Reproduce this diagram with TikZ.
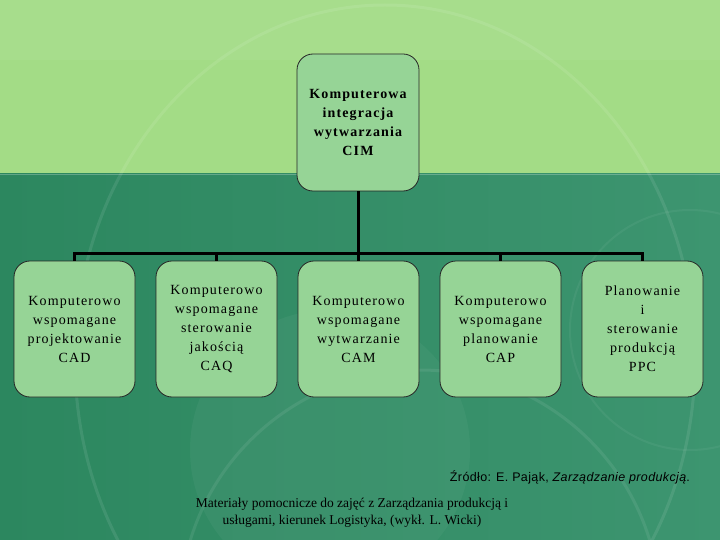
\documentclass[tikz,border=0pt]{standalone}
\usepackage{fontspec}
\setmainfont{Liberation Serif}[LetterSpace=8]
\newfontfamily\arialfont{Liberation Sans}[LetterSpace=3]
\newfontfamily\timesfont{Liberation Serif}
\definecolor{topbg}{HTML}{A3DC86}
\definecolor{botbgl}{HTML}{2C875F}
\definecolor{botbgr}{HTML}{3D9570}
\definecolor{boxfill}{HTML}{96D496}
\tikzset{
  orgbox/.style={draw=black!85, line width=0.8pt, fill=boxfill, rounded corners=16pt,
    minimum width=121pt, minimum height=136pt, inner sep=0pt, align=center,
    font=\fontsize{14pt}{19pt}\selectfont},
  topbox/.style={orgbox, minimum width=122pt, minimum height=137pt,
    font=\fontsize{14pt}{19pt}\selectfont\bfseries},
  link/.style={draw=black, line width=3pt}
}
\begin{document}
\begin{tikzpicture}[x=1pt,y=-1pt]
\useasboundingbox (0,0) rectangle (720,540);
% background
\fill[topbg] (0,0) rectangle (720,174);
\shade[left color=botbgl, right color=botbgr] (0,174) rectangle (720,540);
\fill[white, opacity=0.05] (0,0) rectangle (720,60);
\draw[white, opacity=0.25, line width=0.6pt] (0,174) -- (720,174);
% faint decorative arcs
\begin{scope}
\clip (0,0) rectangle (720,540);
\draw[white, opacity=0.09, line width=3pt] (385,360) ellipse (310pt and 355pt);
\fill[white, opacity=0.04] (330,450) circle (140pt);
\draw[white, opacity=0.08, line width=3pt] (420,610) circle (240pt);
\draw[white, opacity=0.05, line width=2pt] (690,330) circle (120pt);
\end{scope}
% boxes
\node[topbox] (top) at (358,122.5) {Komputerowa\\integracja\\wytwarzania\\CIM};
\node[orgbox] (cad) at (74.5,329) {Komputerowo\\wspomagane\\projektowanie\\CAD};
\node[orgbox] (caq) at (216.5,329) {Komputerowo\\wspomagane\\sterowanie\\jakością\\CAQ};
\node[orgbox] (cam) at (358.5,329) {Komputerowo\\wspomagane\\wytwarzanie\\CAM};
\node[orgbox] (cap) at (500.5,329) {Komputerowo\\wspomagane\\planowanie\\CAP};
\node[orgbox] (ppc) at (642.5,329) {Planowanie\\i\\sterowanie\\produkcją\\PPC};
% connectors
\coordinate (j) at (358,253);
\draw[link] (top.south) -- (j);
\draw[link, line cap=rect] (cad.north |- j) -- (ppc.north |- j);
\foreach \n in {cad,caq,cam,cap,ppc}{
  \draw[link] (\n.north |- j) -- (\n.north);
}
% texts
\node[anchor=east, inner sep=0pt, font=\arialfont\fontsize{12.5pt}{14pt}\selectfont] (src) at (690,477)
  {Źródło: E. Pająk, \textit{Zarządzanie produkcją}.};
\node[align=center, inner sep=0pt, font=\timesfont\fontsize{13.5pt}{17pt}\selectfont] (foot) at (352,513)
  {Materiały pomocnicze do zajęć z Zarządzania produkcją i\\usługami, kierunek Logistyka, (wykł. L. Wicki)};
\end{tikzpicture}
\end{document}
